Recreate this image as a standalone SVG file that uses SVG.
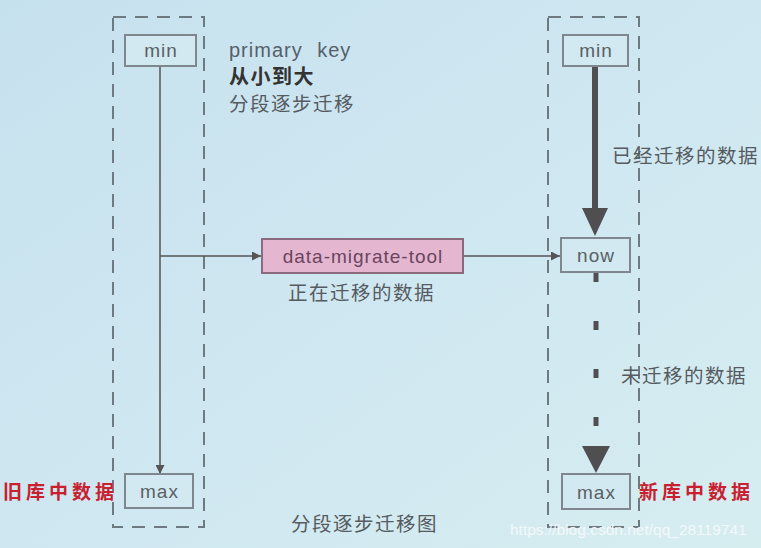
<svg xmlns="http://www.w3.org/2000/svg" width="761" height="548" viewBox="0 0 761 548">
<defs>
<linearGradient id="bg" x1="0" y1="0" x2="1" y2="1">
<stop offset="0" stop-color="#c6e1ee"/>
<stop offset="0.5" stop-color="#cfe7f1"/>
<stop offset="1" stop-color="#d6edf0"/>
</linearGradient>
<marker id="small" viewBox="0 0 10 10" refX="10" refY="5" markerWidth="9" markerHeight="9" markerUnits="userSpaceOnUse" orient="auto">
<path d="M0,0 L10,5 L0,10 Z" fill="#555"/>
</marker>
</defs>
<style>
.frame{fill:none;stroke:#6e7a82;stroke-width:2;stroke-dasharray:13 9}
.box{fill:#d3e9f1;stroke:#7d878d;stroke-width:2}
.lbl{font-family:"Liberation Sans",Arial,sans-serif;font-size:19px;fill:#5a6064;letter-spacing:1px;text-anchor:middle}
.cn{font-family:"Noto Sans CJK SC",sans-serif;font-size:19.5px;fill:#555b60;letter-spacing:1.5px}
.red{font-family:"Noto Sans CJK SC",sans-serif;font-size:19px;font-weight:bold;fill:#c8202f;letter-spacing:4px}
.thin{stroke:#555;stroke-width:1.5;fill:none}
</style>
<rect width="761" height="548" fill="url(#bg)"/>

<g id="old-db">
<rect class="frame" x="113" y="17" width="91" height="510"/>
</g>
<g id="new-db">
<rect class="frame" x="548" y="17" width="91" height="510"/>
</g>

<g id="connectors">
<line class="thin" x1="160" y1="66" x2="160" y2="474" marker-end="url(#small)"/>
<line class="thin" x1="160" y1="256" x2="261" y2="256" marker-end="url(#small)"/>
<line class="thin" x1="463" y1="256" x2="560" y2="256" marker-end="url(#small)"/>
<line x1="595" y1="66" x2="595" y2="212" stroke="#4f4f52" stroke-width="6"/>
<path d="M582,208 L608,208 L595,236 Z" fill="#4f4f52"/>
<line x1="596" y1="273" x2="596" y2="447" stroke="#4f4f52" stroke-width="5" stroke-dasharray="9 39"/>
<path d="M582,446 L610,446 L596,473 Z" fill="#4f4f52"/>
</g>

<g id="old-min">
<rect class="box" x="125" y="35" width="71" height="31"/>
<text class="lbl" x="161" y="57">min</text>
</g>
<g id="old-max">
<rect class="box" x="125" y="474" width="68" height="34"/>
<text class="lbl" x="159.5" y="498">max</text>
</g>
<g id="new-min">
<rect class="box" x="563" y="35" width="65" height="31"/>
<text class="lbl" x="596" y="57">min</text>
</g>
<g id="new-now">
<rect class="box" x="561" y="238" width="69" height="34"/>
<text class="lbl" x="596" y="262">now</text>
</g>
<g id="new-max">
<rect class="box" x="562" y="474" width="68" height="35"/>
<text class="lbl" x="596.5" y="499">max</text>
</g>
<g id="tool">
<rect x="262" y="239" width="201" height="34" fill="#e4b6cf" stroke="#8a6a7c" stroke-width="2"/>
<text class="lbl" x="363" y="263" style="fill:#6a4560">data-migrate-tool</text>
</g>

<g id="labels">
<text x="229" y="57" style="font-family:'Liberation Sans',Arial,sans-serif;font-size:20px;fill:#55606a;letter-spacing:1px;word-spacing:8px">primary key</text>
<text class="cn" x="229" y="84" style="font-weight:bold;fill:#333;font-size:20px">从小到大</text>
<text class="cn" x="229" y="111">分段逐步迁移</text>
<text class="cn" x="288" y="300">正在迁移的数据</text>
<text class="cn" x="612" y="163">已经迁移的数据</text>
<text class="cn" x="621" y="383">未迁移的数据</text>
<text class="cn" x="291" y="531">分段逐步迁移图</text>
<text class="red" x="3" y="499">旧库中数据</text>
<text class="red" x="639" y="499">新库中数据</text>
<text x="510" y="535" style="font-family:'Liberation Sans',Arial,sans-serif;font-size:15.5px;fill:#f4f8fa">https://blog.csdn.net/qq_28119741</text>
</g>
</svg>
